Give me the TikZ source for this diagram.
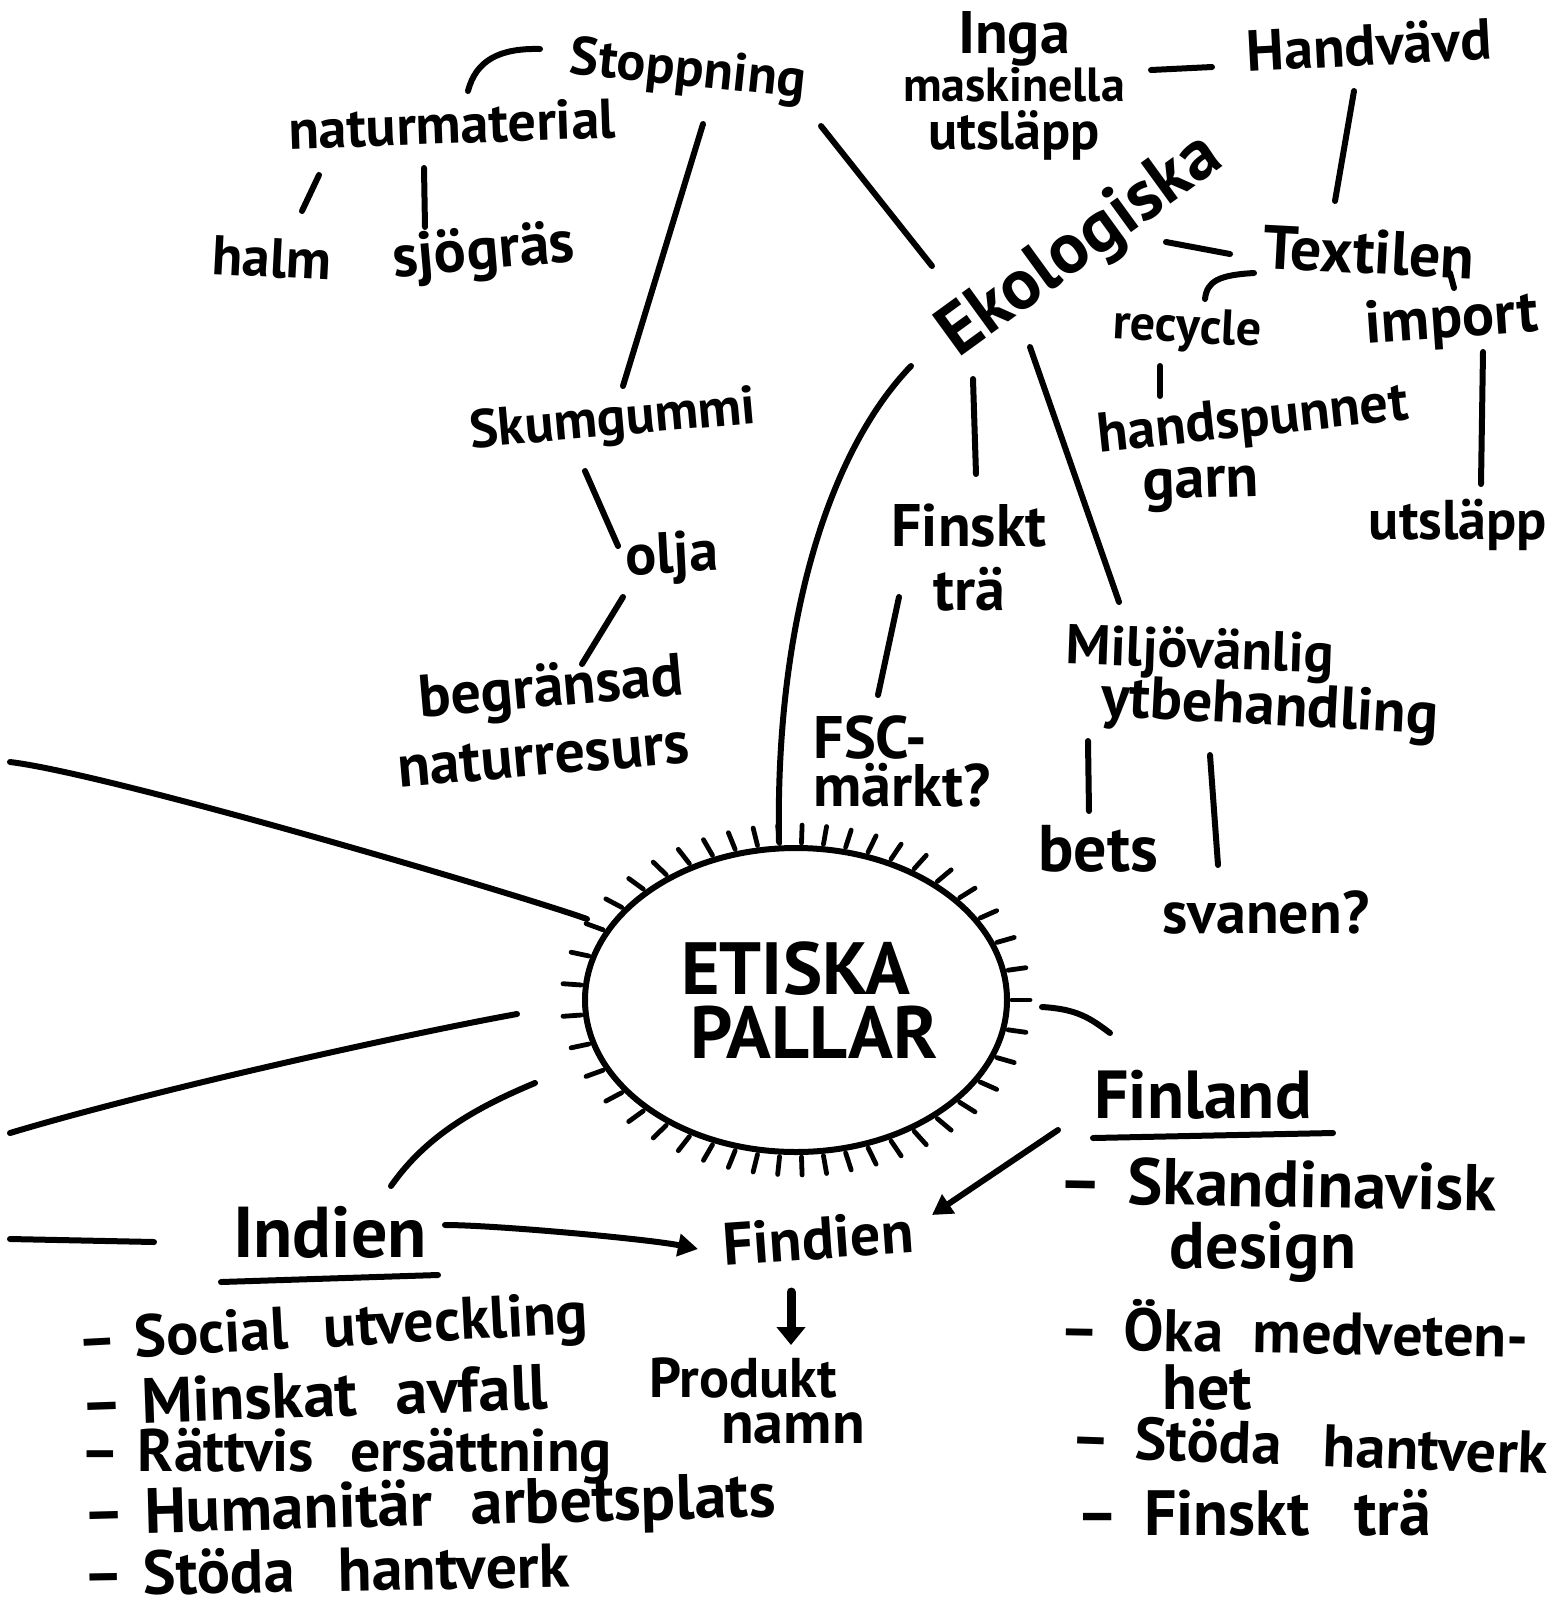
\documentclass[tikz,border=0pt]{standalone}
\usepackage{fontspec}
\setmainfont{PT Sans}
\usetikzlibrary{calc,arrows.meta,shapes.geometric}
\newcommand\fsz[1]{\fontsize{#1}{#1}\selectfont}
\newcommand\wgap[1]{\hspace{#1em}}
\begin{document}
\begin{tikzpicture}[x=0.5pt,y=-0.5pt,
  lbl/.style={inner sep=0pt, align=center, font=\bfseries\fontsize{#1}{#1}\selectfont},
  lbl/.default=27,
  item/.style={inner sep=0pt, anchor=west, font=\bfseries\fontsize{#1}{#1}\selectfont},
  ln/.style={line width=3pt, line cap=round},
  arr/.style={ln, -{Triangle[length=10pt,width=11pt]}},
  tick/.style={line width=2.4pt, line cap=round}]
\fill[white] (0,0) rectangle (1565,1614);
\useasboundingbox (0,0) rectangle (1565,1614);

% ---------- nodes ----------
\node[lbl=27, rotate=-6] (stop) at (688,72) {Stoppning};
\node[lbl=28, rotate=2] (nat) at (452,124) {naturmaterial};
\node[lbl=28, rotate=-3] (halm) at (272,258) {halm};
\node[lbl=30, rotate=5] (sjo) at (484,254) {sjögräs};
\node[lbl=27, rotate=5] (skum) at (613,422) {Skumgummi};
\node[lbl=29, rotate=3] (olja) at (672,558) {olja};
\node[lbl=30, rotate=5, align=right] (begr) at (540,720) {begränsad\\[4pt]naturresurs};
\node[lbl=24] (inga) at (1014,86) {{\fsz{30}Inga}\\maskinella\\{\fsz{27}utsläpp}};
\node[lbl=29, rotate=3] (handv) at (1369,45) {Handvävd};
\node[lbl=36, rotate=36] (eko) at (1081,247) {Ekologiska};
\node[lbl=31, rotate=-3] (text) at (1369,252) {Textilen};
\node[lbl=25, rotate=-3] (recyc) at (1187,330) {recycle};
\node[lbl=30, rotate=4] (imp) at (1452,322) {import};
\node[lbl=28, rotate=6] (hands) at (1253,422) {handspunnet};
\node[lbl=30, rotate=2] (garn) at (1201,489) {garn};
\node[lbl=28] (utsl) at (1458,525) {utsläpp};
\node[lbl=30] (fin) at (969,558) {Finskt\\[2pt]trä};
\node[lbl=30, align=left] (fsc) at (902,761) {FSC-\\[-6pt]märkt?};
\node[lbl=28, rotate=-2] (milj1) at (1200,654) {Miljövänlig};
\node[lbl=30, rotate=-3] (milj2) at (1270,710) {ytbehandling};
\node[lbl=33] (bets) at (1098,849) {bets};
\node[lbl=30] (svan) at (1266,912) {svanen?};
\node[lbl=37, ellipse, draw, line width=3pt, minimum width=211pt, minimum height=152pt]
  (etiska) at (796,1000) {ETISKA\\[-5pt]\hspace*{18pt}PALLAR};
\node[lbl=36] (indien) at (330,1232) {Indien};
\node[lbl=30, rotate=4] (findien) at (818,1238) {Findien};
\node[lbl=28] (prod1) at (743,1378) {Produkt};
\node[lbl=30] (prod2) at (793,1428) {namn};
\node[lbl=34] (finland) at (1203,1095) {Finland};

% Indien list
\node[item=30, rotate=3] (i1) at (77,1345) {–\wgap{0.3}Social\wgap{0.6}utveckling};
\node[item=32, rotate=2] (i2) at (80,1403) {–\wgap{0.3}Minskat\wgap{0.6}avfall};
\node[item=30] (i3) at (80,1456) {–\wgap{0.3}Rättvis\wgap{0.6}ersättning};
\node[item=32, rotate=1.5] (i4) at (83,1518) {–\wgap{0.3}Humanitär\wgap{0.6}arbetsplats};
\node[item=31, rotate=1] (i5) at (83,1574) {–\wgap{0.3}Stöda\wgap{0.7}hantverk};
% Finland list
\node[item=33, rotate=-1] (f1) at (1058,1180) {–\wgap{0.4}Skandinavisk};
\node[lbl=33] (f1b) at (1263,1252) {design};
\node[item=30, rotate=-1] (f2) at (1060,1324) {–\wgap{0.4}Öka\wgap{0.5}medveten-};
\node[lbl=32] (f2b) at (1207,1388) {het};
\node[item=30, rotate=-2] (f3) at (1071,1436) {–\wgap{0.4}Stöda\wgap{0.7}hantverk};
\node[item=32] (f4) at (1076,1513) {–\wgap{0.4}Finskt\wgap{0.7}trä};

% ticks round the central node
\foreach \a in {0,8,...,352}
  \draw[tick] ($(etiska.\a)!-1pt!(etiska.center)$) -- ($(etiska.\a)!-10pt!(etiska.center)$);

% ---------- connectors ----------
\draw[ln] ($(nat)+(16,-33)$) .. controls +(8,-31) and +(-40,-1) .. ($(stop)+(-148,-23)$);
\draw[ln] ($(nat)+(-133,51)$) -- ($(halm)+(30,-47)$);
\draw[ln] ($(nat)+(-28,44)$) -- ($(sjo)+(-59,-27)$);
\draw[ln] ($(stop)+(15,52)$) -- ($(skum)+(10,-36)$);
\draw[ln] ($(stop)+(133,54)$) -- ($(eko)+(-149,19)$);
\draw[ln] ($(skum)+(-28,49)$) -- ($(olja)+(-54,-12)$);
\draw[ln] ($(olja)+(-49,39)$) -- ($(begr)+(42,-56)$);
\draw[ln] ($(inga)+(137,-16)$) -- ($(handv)+(-157,22)$);
\draw[ln] ($(handv)+(-15,46)$) -- ($(text)+(-34,-51)$);
\draw[ln] ($(eko)+(85,-5)$) -- ($(text)+(-139,2)$);
\draw[ln] ($(text)+(-115,21)$) .. controls +(-35,2) and +(2,-18) .. ($(recyc)+(18,-31)$);
\draw[ln] ($(text)+(81,21)$) -- ($(imp)+(2,-34)$);
\draw[ln] ($(recyc)+(-27,36)$) -- ($(hands)+(-93,-26)$);
\draw[ln] ($(imp)+(31,30)$) -- ($(utsl)+(23,-41)$);
\draw[ln] ($(eko)+(-108,132)$) -- ($(fin)+(7,-84)$);
\draw[ln] ($(fin)+(-70,39)$) -- ($(fsc)+(-24,-66)$);
\draw[ln] ($(eko)+(-51,100)$) -- ($(milj1)+(-81,-52)$);
\draw[ln] ($(milj2)+(-182,31)$) -- ($(bets)+(-9,-38)$);
\draw[ln] ($(milj2)+(-60,45)$) -- ($(svan)+(-48,-47)$);
\draw[ln] ($(eko)+(-170,119)$) .. controls +(-81,84) and +(-4,-222) .. ($(etiska)+(-17,-158)$);

% free ends at the left edge
\coordinate (L1) at (10,762);
\coordinate (L2) at (10,1133);
\coordinate (L4) at (10,1239);
\draw[ln] (L1) .. controls +(100,12) and +(-70,-25) .. ($(etiska)+(-209,-81)$);
\draw[ln] (L2) .. controls +(150,-45) and +(-100,18) .. ($(etiska)+(-279,14)$);
\draw[ln] ($(etiska)+(-261,83)$) .. controls +(-60,25) and +(35,-50) .. ($(indien)+(61,-46)$);
\draw[ln] (L4) -- ($(indien)+(-176,10)$);
\draw[ln] ($(indien)+(-109,50)$) -- ($(indien)+(108,43)$);
\draw[arr] ($(indien)+(115,-7)$) .. controls +(50,0) and +(-50,-10) .. ($(findien)+(-120,11)$);
\draw[arr] ($(finland)+(-145,35)$) -- ($(findien)+(114,-23)$);
\draw[ln, line width=4.5pt, -{Triangle[length=9pt,width=14pt]}] ($(findien)+(-27,54)$) -- ($(prod1)+(48,-33)$);
\draw[ln] ($(etiska)+(246,7)$) .. controls +(35,2) and +(-20,-15) .. ($(finland)+(-93,-62)$);
\draw[ln] ($(finland)+(-110,43)$) -- ($(finland)+(130,38)$);
\end{tikzpicture}
\end{document}
